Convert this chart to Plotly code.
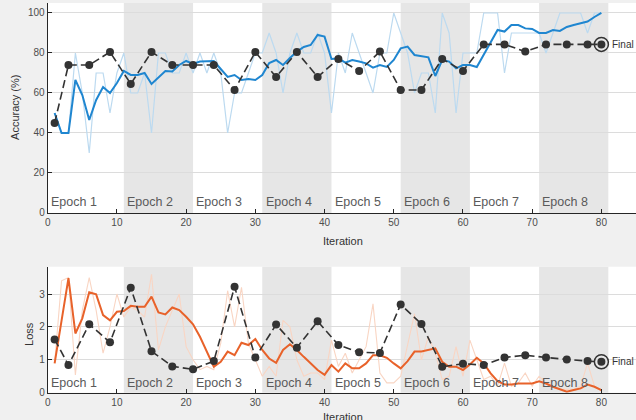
import plotly.graph_objects as go

iterations = list(range(1, 81))

acc_raw = [50, 40, 40, 80, 60, 30, 70, 70, 50, 70,
           80, 60, 60, 70, 40, 80, 80, 70, 70, 80,
           70, 80, 70, 80, 70, 40, 60, 60, 70, 80,
           80, 90, 80, 60, 80, 90, 80, 80, 90, 80,
           50, 80, 70, 90, 80, 70, 60, 80, 80, 100,
           90, 80, 60, 70, 70, 50, 100, 90, 50, 80,
           80, 80, 100, 100, 100, 70, 90, 90, 90, 90,
           90, 80, 90, 100, 100, 100, 100, 90, 100, 100]

acc_smooth = [50, 40, 40, 66.5, 59, 46.5, 56.5, 63, 60, 65,
              71, 69, 69, 70, 64.5, 68, 71, 70.7, 74, 76,
              74.5, 75.7, 76, 76, 72, 68, 69, 66.5, 67, 66.5,
              69, 75, 76.5, 74, 77.5, 80.7, 83, 84, 89, 88.2,
              77, 77.3, 75.2, 76.5, 75.7, 74.8, 72.7, 74, 73, 76.5,
              82.3, 83.2, 79, 78.5, 77.8, 68.5, 76.5, 75.7, 72.3, 74,
              74, 73, 79, 85, 91.5, 90.7, 94, 94, 92.3, 92,
              90, 90, 91.5, 91, 93, 94, 95, 95.7, 98, 100]

val_iter = [1, 3, 6, 9, 12, 15, 18, 21, 24, 27, 30, 33, 36, 39, 42, 45, 48,
            51, 54, 57, 60, 63, 66, 69, 72, 75, 78, 80]
val_acc = [45, 74, 74, 80.5, 64.5, 80.5, 74, 74, 74, 61.5, 80.5, 68, 80.5, 68,
           77, 71, 80.7, 61.5, 61.5, 77, 71, 84.3, 84.3, 80.7, 84.3, 84.3, 84.3, 84.3]

loss_raw = [0.9, 3.4, 3.5, 0.54, 2.5, 3.5, 2.5, 1.2, 2.0, 3.0,
            2.3, 2.6, 2.5, 2.3, 3.6, 1.3, 2.0, 2.5, 3.0, 1.4,
            1.0, 0.7, 0.8, 0.7, 1.5, 3.1, 2.0, 3.2, 1.5, 1.0,
            0.5, 0.8, 0.5, 2.2, 2.0, 1.0, 0.5, 0.6, 0.6, 0.4,
            1.6, 0.8, 1.2, 0.6, 1.0, 1.4, 2.7, 0.6, 0.3, 0.3,
            0.5, 1.5, 2.4, 1.0, 1.7, 1.2, 0.4, 0.5, 1.4, 0.5,
            1.6, 1.0, 0.4, 0.5, 0.2, 0.9, 0.2, 0.3, 0.6, 0.2,
            0.5, 0.3, 0.2, 0.1, 0.1, 0.1, 0.2, 0.9, 0.2, 0.05]

loss_smooth = [0.89, 2.2, 3.48, 1.8, 2.26, 3.05, 2.99, 2.36, 2.2, 2.46,
               2.48, 2.64, 2.61, 2.61, 2.92, 2.44, 2.38, 2.59, 2.51, 2.31,
               2.08, 1.7, 1.25, 0.79, 0.94, 1.25, 1.14, 1.52, 1.45, 1.63,
               1.3, 1.04, 0.91, 1.3, 1.47, 1.3, 1.09, 0.89, 0.69, 0.54,
               0.84, 0.64, 0.89, 0.74, 0.74, 0.89, 1.14, 1.14, 1.06, 0.89,
               0.74, 0.96, 1.25, 1.25, 1.3, 1.35, 0.94, 0.79, 0.79, 0.69,
               0.86, 1.06, 0.89, 0.59, 0.35, 0.25, 0.25, 0.28, 0.28, 0.28,
               0.35, 0.28, 0.18, 0.10, 0.03, 0.08, 0.13, 0.25, 0.18, 0.08]

val_loss = [1.62, 0.84, 2.08, 1.53, 3.19, 1.26, 0.80, 0.71, 0.96, 3.22, 1.07,
            2.07, 1.37, 2.17, 1.45, 1.23, 1.21, 2.68, 2.09, 0.79, 0.88, 0.84,
            1.07, 1.14, 1.07, 1.01, 0.96, 0.94]

epoch_labels = ["Epoch 1", "Epoch 2", "Epoch 3", "Epoch 4",
                "Epoch 5", "Epoch 6", "Epoch 7", "Epoch 8"]
epoch_starts = [0, 11, 21, 31, 41, 51, 61, 71]
epoch_ends = [11, 21, 31, 41, 51, 61, 71, 81]

FONT = "Arial, Liberation Sans, sans-serif"
DARK = "#333333"

fig = go.Figure()

# Accuracy
fig.add_trace(go.Scatter(x=iterations, y=acc_raw, mode="lines",
                         line=dict(color="#bcdaf0", width=1.2), xaxis="x", yaxis="y"))
fig.add_trace(go.Scatter(x=iterations, y=acc_smooth, mode="lines",
                         line=dict(color="#1f86d0", width=2), xaxis="x", yaxis="y"))
fig.add_trace(go.Scatter(x=val_iter, y=val_acc, mode="lines+markers",
                         line=dict(color=DARK, width=1.6, dash="8px,4px"),
                         marker=dict(color=DARK, size=8), xaxis="x", yaxis="y"))
fig.add_trace(go.Scatter(x=[val_iter[-1]], y=[val_acc[-1]], mode="markers",
                         marker=dict(symbol="circle-open", size=14, color=DARK,
                                     line=dict(width=1.5, color=DARK)),
                         xaxis="x", yaxis="y"))

# Loss
fig.add_trace(go.Scatter(x=iterations, y=loss_raw, mode="lines",
                         line=dict(color="#f9d5c3", width=1.1), xaxis="x2", yaxis="y2"))
fig.add_trace(go.Scatter(x=iterations, y=loss_smooth, mode="lines",
                         line=dict(color="#e8622a", width=2), xaxis="x2", yaxis="y2"))
fig.add_trace(go.Scatter(x=val_iter, y=val_loss, mode="lines+markers",
                         line=dict(color=DARK, width=1.6, dash="8px,4px"),
                         marker=dict(color=DARK, size=8), xaxis="x2", yaxis="y2"))
fig.add_trace(go.Scatter(x=[val_iter[-1]], y=[val_loss[-1]], mode="markers",
                         marker=dict(symbol="circle-open", size=14, color=DARK,
                                     line=dict(width=1.5, color=DARK)),
                         xaxis="x2", yaxis="y2"))

shapes = []
annotations = []
for i, (s, e, lab) in enumerate(zip(epoch_starts, epoch_ends, epoch_labels)):
    if i % 2 == 1:
        for xr, yr in (("x", "y domain"), ("x2", "y2 domain")):
            shapes.append(dict(type="rect", xref=xr, yref=yr, x0=s, x1=e, y0=0, y1=1,
                               fillcolor="#e6e6e6", line=dict(width=0), layer="below"))
    annotations.append(dict(x=s + 0.2, y=5.5, xref="x", yref="y", text=lab,
                            showarrow=False, xanchor="left", yanchor="middle",
                            font=dict(size=12.5, color="#5a5a5a", family=FONT)))
    annotations.append(dict(x=s + 0.2, y=0.3, xref="x2", yref="y2", text=lab,
                            showarrow=False, xanchor="left", yanchor="middle",
                            font=dict(size=12.5, color="#5a5a5a", family=FONT)))

annotations += [
    dict(x=81.3, y=val_acc[-1], xref="x", yref="y", text="Final", showarrow=False,
         xanchor="left", yanchor="middle", font=dict(size=10, color=DARK, family=FONT)),
    dict(x=81.3, y=val_loss[-1], xref="x2", yref="y2", text="Final", showarrow=False,
         xanchor="left", yanchor="middle", font=dict(size=10, color=DARK, family=FONT)),
    dict(x=0.539, y=0.426, xref="paper", yref="paper", text="Iteration", showarrow=False,
         xanchor="center", yanchor="middle", font=dict(size=11, color="#333333", family=FONT)),
    dict(x=0.539, y=0.0262, xref="paper", yref="paper", text="Iteration", showarrow=False,
         xanchor="center", yanchor="top", font=dict(size=11, color="#333333", family=FONT)),
    dict(x=0.0236, y=0.743, xref="paper", yref="paper", text="Accuracy (%)", showarrow=False,
         textangle=-90, xanchor="center", yanchor="middle",
         font=dict(size=11, color="#333333", family=FONT)),
    dict(x=0.0456, y=0.205, xref="paper", yref="paper", text="Loss", showarrow=False,
         textangle=-90, xanchor="center", yanchor="middle",
         font=dict(size=11, color="#333333", family=FONT)),
]

axis_common = dict(showline=True, linecolor="#262626", linewidth=1, ticks="inside",
                   ticklen=4, tickcolor="#262626", zeroline=False, automargin=False,
                   tickfont=dict(size=10, color="#4d4d4d", family=FONT))

fig.update_layout(
    width=636, height=420,
    margin=dict(l=0, r=0, t=0, b=0, pad=0, autoexpand=False),
    paper_bgcolor="#f0f0f0", plot_bgcolor="#ffffff",
    showlegend=False,
    xaxis=dict(domain=[0.075, 1.0], range=[0, 85], tickvals=list(range(0, 81, 10)),
               showgrid=False, anchor="y", **axis_common),
    yaxis=dict(domain=[0.4929, 0.9929], range=[0, 105], tickvals=[0, 20, 40, 60, 80, 100],
               showgrid=True, gridcolor="#dcdcdc", anchor="x", **axis_common),
    xaxis2=dict(domain=[0.075, 1.0], range=[0, 85], tickvals=list(range(0, 81, 10)),
                showgrid=False, anchor="y2", **axis_common),
    yaxis2=dict(domain=[0.065, 0.365], range=[0, 3.83], tickvals=[0, 1, 2, 3],
                showgrid=True, gridcolor="#dcdcdc", anchor="x2", **axis_common),
    shapes=shapes,
    annotations=annotations,
)

fig.write_html(
    "out.html",
    config={"displayModeBar": False, "staticPlot": False},
    post_script="document.body.style.margin='0';document.body.style.padding='0';"
                "document.body.style.overflow='hidden';document.body.style.background='#f0f0f0';",
)
